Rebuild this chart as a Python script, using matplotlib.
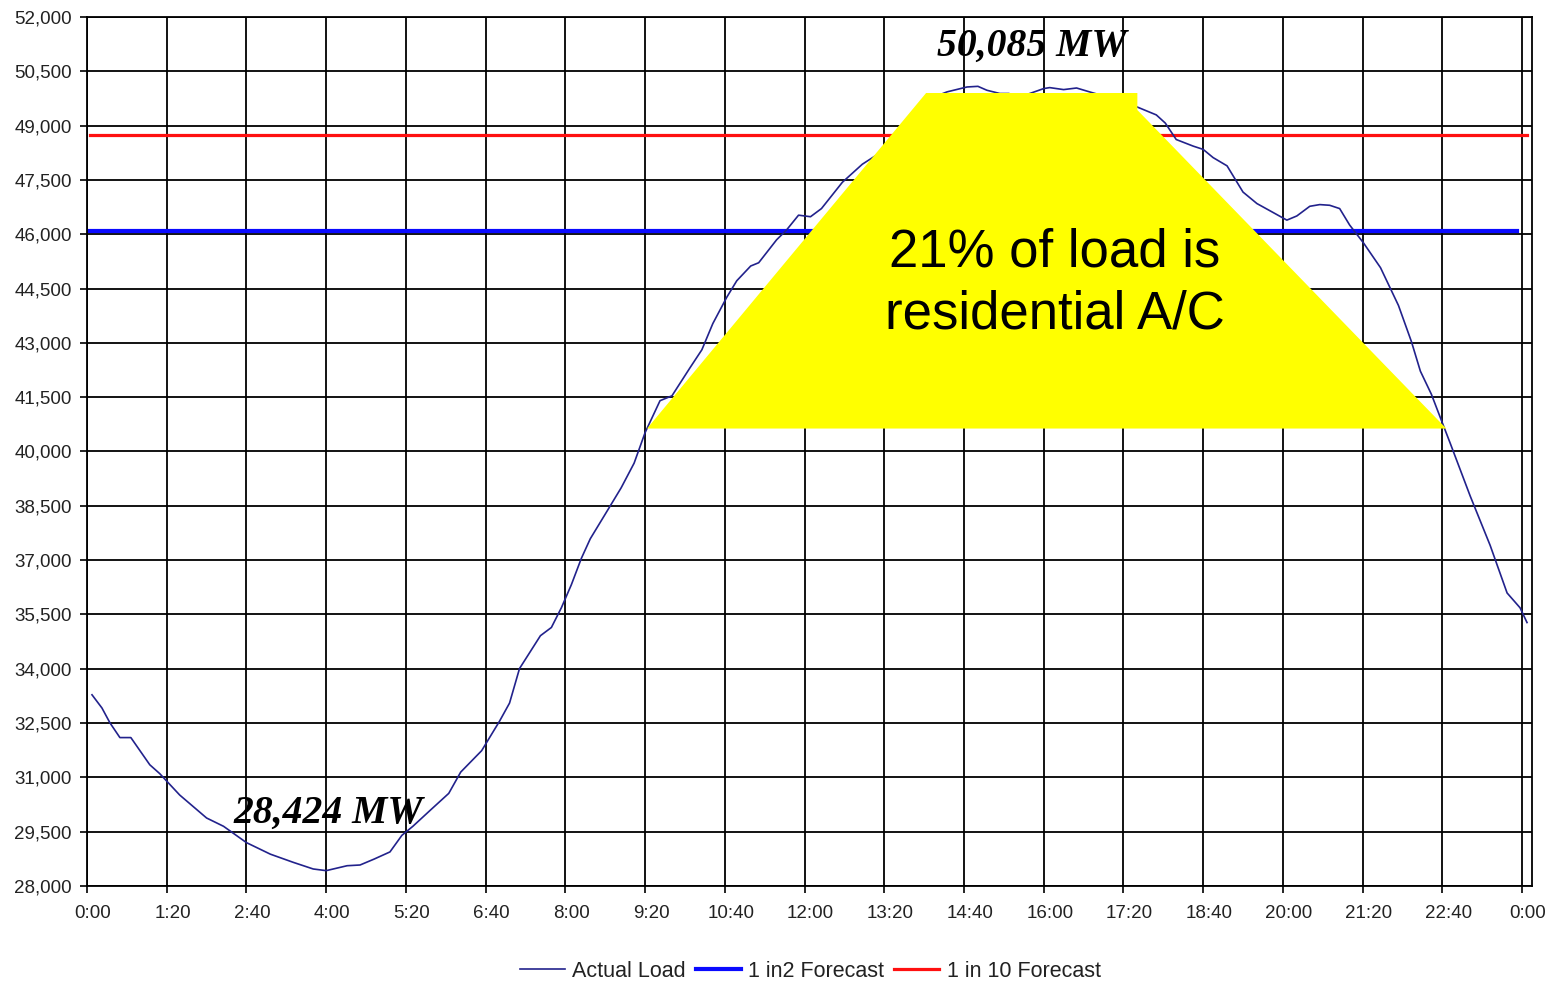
import matplotlib
matplotlib.use("Agg")
import matplotlib.pyplot as plt
from matplotlib.patches import Polygon
from matplotlib.transforms import ScaledTranslation

# Time of day (minutes after midnight) and system load (MW)
minutes = [5, 15, 23, 33, 44, 63, 73, 93, 120, 137, 160, 184, 207, 227, 240,
           261, 274, 288, 304, 316, 327, 345, 363, 375, 396, 414, 424, 434,
           455, 466, 476, 486, 496, 505, 525, 536, 549, 560, 575, 587, 605,
           617, 628, 642, 652, 666, 674, 692, 702, 714, 726, 737, 758, 778,
           796, 815, 830, 845, 863, 883, 894, 903, 916, 925, 936, 946, 960,
           966, 980, 993, 1006, 1020, 1033, 1057, 1073, 1082, 1093, 1110,
           1120, 1130, 1144, 1160, 1174, 1189, 1204, 1214, 1227, 1237, 1247,
           1257, 1267, 1281, 1298, 1316, 1329, 1338, 1349, 1361, 1368, 1388,
           1408, 1425, 1438, 1445]
actual_load = [33281, 32916, 32507, 32099, 32099, 31348, 31103, 30513, 29878,
               29649, 29198, 28879, 28653, 28470, 28424, 28560, 28580, 28742,
               28941, 29400, 29649, 30106, 30558, 31146, 31737, 32554, 33052,
               34005, 34913, 35140, 35684, 36319, 37045, 37589, 38496, 38997,
               39678, 40520, 41403, 41539, 42309, 42810, 43534, 44261, 44715,
               45123, 45213, 45847, 46119, 46527, 46484, 46709, 47436, 47934,
               48253, 48920, 49341, 49738, 49932, 50067, 50085, 49977, 49887,
               49887, 49795, 49887, 50023, 50050, 49995, 50039, 49932, 49820,
               49751, 49478, 49296, 49071, 48616, 48434, 48344, 48117, 47889,
               47165, 46847, 46619, 46390, 46505, 46772, 46819, 46800, 46709,
               46255, 45757, 45076, 44033, 43035, 42218, 41583, 40722, 40223,
               38769, 37408, 36093, 35684, 35276]

forecast_1in2 = 46090
forecast_1in10 = 48740
peak_load = 50085
min_load = 28424

tick_minutes = list(range(0, 1441, 80))
tick_labels = ["0:00", "1:20", "2:40", "4:00", "5:20", "6:40", "8:00", "9:20",
               "10:40", "12:00", "13:20", "14:40", "16:00", "17:20", "18:40",
               "20:00", "21:20", "22:40", "0:00"]
y_ticks = list(range(28000, 52001, 1500))

plt.rcParams["font.family"] = ["Liberation Sans", "DejaVu Sans"]

fig = plt.figure(figsize=(15.55, 9.82), dpi=100)
ax = fig.add_axes([0.05595, 0.09776, 0.92926, 0.88493])

ax.set_xlim(0, 1450)
ax.set_ylim(28000, 52000)

ax.set_xticks(tick_minutes)
ax.set_xticklabels(tick_labels)
ax.set_yticks(y_ticks)
ax.set_yticklabels([f"{v:,}" for v in y_ticks])
ax.tick_params(axis="both", direction="out", length=5, width=1.2,
               colors="black", labelsize=13.5)
ax.tick_params(axis="x", pad=9)
ax.tick_params(axis="y", pad=6)
for lbl in ax.get_xticklabels():
    lbl.set_transform(lbl.get_transform() +
                      ScaledTranslation(6 / 100, 0, fig.dpi_scale_trans))
    lbl.set_color("#222222")
for lbl in ax.get_yticklabels():
    lbl.set_color("#222222")

ax.grid(True, color="black", linewidth=1.3)
ax.set_axisbelow(True)
for s in ax.spines.values():
    s.set_linewidth(1.3)
    s.set_color("black")

ax.plot([3, 1445], [forecast_1in10, forecast_1in10], color="#ff1010",
        linewidth=2.3, label="1 in 10 Forecast", zorder=3)
ax.plot([3, 1435], [forecast_1in2, forecast_1in2], color="#0a0aff",
        linewidth=3.0, label="1 in2 Forecast", zorder=3)
ax.plot(minutes, actual_load, color="#22228c", linewidth=1.2,
        label="Actual Load", zorder=4)

# Highlight shape for the air-conditioning share
trap = Polygon([(842, 49901), (1054, 49901), (1054, 49431), (1364, 40634),
                (562, 40634)], closed=True, facecolor="#ffff00",
               edgecolor="none", zorder=5)
ax.add_patch(trap)
ax.text(971, 44640, "21% of load is\nresidential A/C", ha="center",
        va="center", fontsize=38, color="black", linespacing=1.3, zorder=6,
        family=["Liberation Sans", "DejaVu Sans"])

ax.text(948, 51199, f"{peak_load:,} MW", ha="center", va="center",
        fontsize=28.5, fontweight="bold", fontstyle="italic",
        family=["Liberation Serif", "DejaVu Serif"], zorder=6)
ax.text(242, 30015, f"{min_load:,} MW", ha="center", va="center",
        fontsize=28.5, fontweight="bold", fontstyle="italic",
        family=["Liberation Serif", "DejaVu Serif"], zorder=6)

handles, labels = ax.get_legend_handles_labels()
order = [2, 1, 0]
leg = fig.legend([handles[i] for i in order], [labels[i] for i in order],
                 loc="center", bbox_to_anchor=(0.521, 0.011), ncol=3,
                 frameon=False, fontsize=15.5, handlelength=2.1,
                 handletextpad=0.35, columnspacing=0.45)
for t in leg.get_texts():
    t.set_color("#222222")

fig.savefig("out.png", dpi=100)
